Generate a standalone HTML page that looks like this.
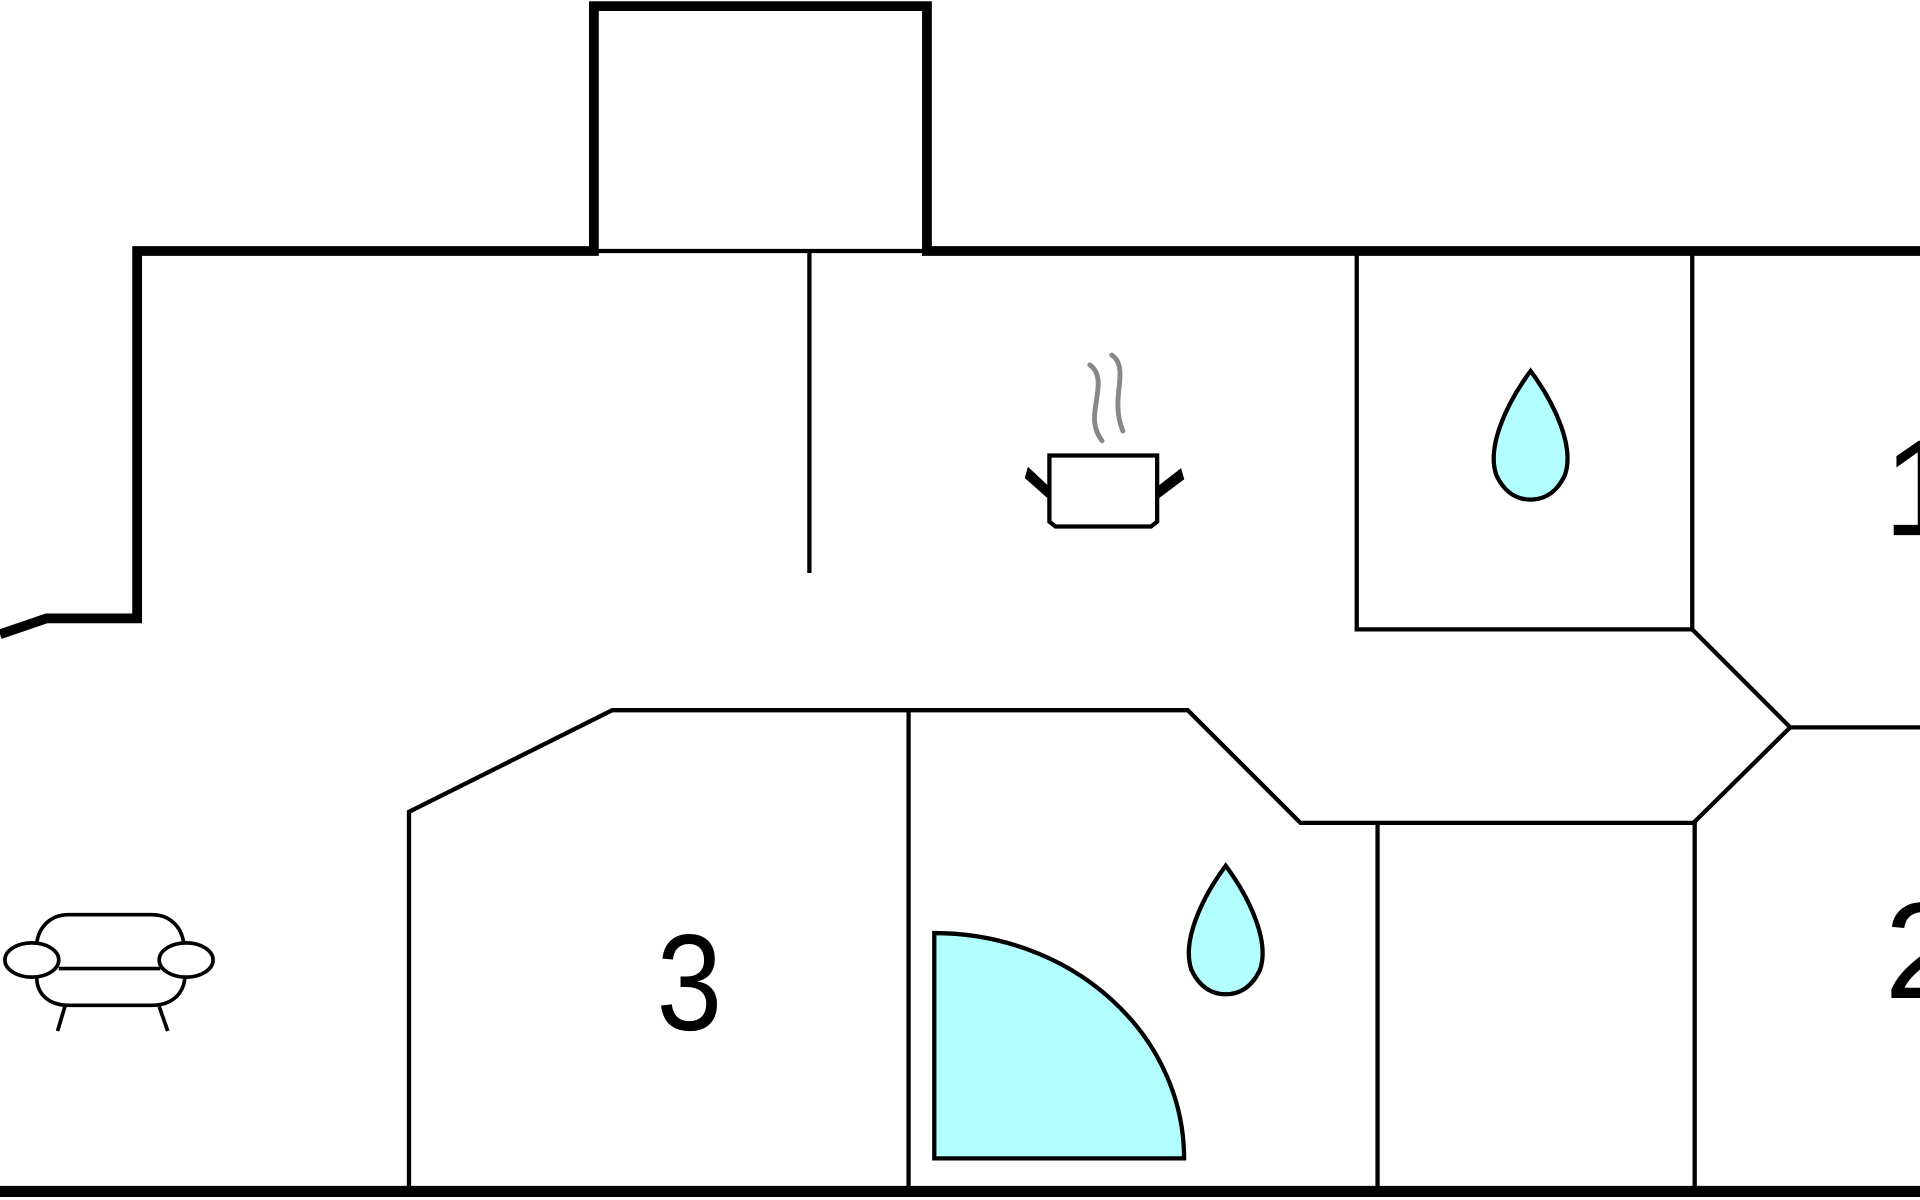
<!DOCTYPE html>
<html><head><meta charset="utf-8"><style>html,body{margin:0;padding:0;background:#fff;width:1920px;height:1200px;overflow:hidden}</style></head>
<body>
<svg width="1920" height="1200" viewBox="0 0 1568 980" xmlns="http://www.w3.org/2000/svg">
<rect width="1568" height="980" fill="#fff"/>
<g fill="none" stroke="#000" stroke-linejoin="miter">
<polyline points="0,518 38,505 112,505 112,205 485,205 485,5 757,5 757,205 1568,205" stroke-width="8"/>
<line x1="0" y1="973" x2="1568" y2="973" stroke-width="9"/>
<g stroke-width="3.5">
<line x1="485" y1="205" x2="757" y2="205"/>
<line x1="661" y1="205" x2="661" y2="468"/>
<polyline points="1108,205 1108,514 1382,514 1382,205"/>
<polyline points="1382,514 1462,594 1568,594"/>
<polyline points="1462,594 1384,671 1384,973"/>
<polyline points="334,973 334,663 500,580 970,580 1062,672 1384,672"/>
<line x1="742" y1="580" x2="742" y2="973"/>
<line x1="1125" y1="672" x2="1125" y2="973"/>
</g>
<path d="M763,762 L763,946 L967,946 A204,184 0 0 0 763,762 Z" fill="#b3ffff" stroke-width="3.5"/>
<path d="M1250,303 C1230,330 1214,365 1222,388 C1230,405 1242,408 1250,408 C1258,408 1270,405 1278,388 C1286,365 1270,330 1250,303 Z" fill="#b3ffff" stroke-width="3.5"/>
<path d="M1001,707 C981,734 965,769 973,792 C981,809 993,812 1001,812 C1009,812 1021,809 1029,792 C1037,769 1021,734 1001,707 Z" fill="#b3ffff" stroke-width="3.5"/>
<!-- pot -->
<path d="M857,372 H945 V426 L940,430 H862 L857,426 Z" stroke-width="3.5" fill="#fff"/>
<path d="M856,406 L838,390 L840,383 L856,398" fill="#000" stroke-width="2"/>
<path d="M946,406 L966,391 L964,384 L946,398" fill="#000" stroke-width="2"/>
<path d="M890,298 C904,308 892,330 894,345 C895,353 898,357 900,360" stroke="#888" stroke-width="4" stroke-linecap="round"/>
<path d="M908,290 C920,298 912,318 913,332 C913,340 915,347 917,352" stroke="#888" stroke-width="4" stroke-linecap="round"/>
<!-- sofa -->
<g stroke-width="3">
<path d="M30,770 C32,756 42,747 56,747 H124 C138,747 148,756 150,770"/>
<line x1="48" y1="791" x2="131" y2="791"/>
<path d="M30,798 C30,812 40,821 56,821 H124 C140,821 150,812 151,798"/>
<ellipse cx="26" cy="784" rx="22" ry="14" fill="#fff"/>
<ellipse cx="152" cy="784" rx="22" ry="14" fill="#fff"/>
<line x1="53" y1="822" x2="47" y2="842"/>
<line x1="130" y1="822" x2="137" y2="842"/>
</g>
</g>
<g font-family="Liberation Sans, sans-serif" font-size="112" fill="#000">
<text transform="translate(563,841) scale(0.86,1)" text-anchor="middle">3</text>
<text x="1538" y="437">1</text>
<text x="1539" y="815">2</text>
</g>
</svg>
</body></html>
